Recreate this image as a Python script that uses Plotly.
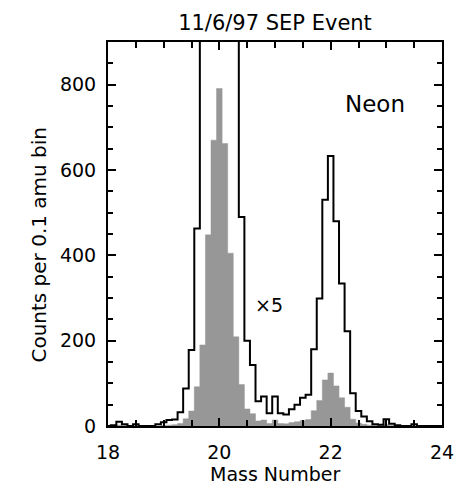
import plotly.graph_objects as go

# Bin centres (amu), 0.1 amu bins
mass = [18.0, 18.1, 18.2, 18.3, 18.4, 18.5, 18.6, 18.7, 18.8, 18.9,
        19.0, 19.1, 19.2, 19.3, 19.4, 19.5, 19.6, 19.7, 19.8, 19.9,
        20.0, 20.1, 20.2, 20.3, 20.4, 20.5, 20.6, 20.7, 20.8, 20.9,
        21.0, 21.1, 21.2, 21.3, 21.4, 21.5, 21.6, 21.7, 21.8, 21.9,
        22.0, 22.1, 22.2, 22.3, 22.4, 22.5, 22.6, 22.7, 22.8, 22.9,
        23.0, 23.1, 23.2, 23.3, 23.4, 23.5, 23.6, 23.7, 23.8, 23.9, 24.0]

# Counts per 0.1 amu bin (grey filled histogram)
counts = [0, 0, 2, 1, 0, 0, 0, 0, 0, 0,
          1, 2, 3, 6, 17, 35, 92, 190, 448, 670,
          791, 662, 405, 209, 97, 40, 29, 12, 14, 6,
          14, 6, 5, 8, 10, 13, 15, 36, 60, 108,
          124, 94, 66, 44, 16, 7, 4, 2, 1, 1,
          3, 1, 0, 0, 0, 0, 0, 0, 0, 0, 0]

# Counts x5 (black outline histogram)
counts_x5 = [0, 2, 10, 4, 0, 4, 0, 0, 0, 4,
             9, 14, 15, 32, 88, 178, 463, 950, 2240, 3350,
             3955, 3310, 2025, 1045, 490, 200, 143, 58, 69, 30,
             69, 30, 27, 39, 50, 66, 73, 180, 299, 530,
             633, 480, 334, 222, 77, 35, 22, 11, 4, 3,
             16, 5, 2, 0, 0, 4, 0, 0, 0, 0, 0]

x_ticks = [18, 20, 22, 24]
y_ticks = [0, 200, 400, 600, 800]

FONT = "DejaVu Sans"

fig = go.Figure()
fig.add_trace(go.Scatter(x=mass, y=counts, mode="lines",
                         line=dict(color="#979797", width=0.5, shape="hvh"),
                         fill="tozeroy", fillcolor="#979797",
                         showlegend=False))
fig.add_trace(go.Scatter(x=mass, y=counts_x5, mode="lines",
                         line=dict(color="black", width=2, shape="hvh"),
                         showlegend=False))

axis_common = dict(showline=True, linecolor="black", linewidth=2, mirror="ticks",
                   ticks="inside", tickcolor="black", tickwidth=1.5,
                   showgrid=False, zeroline=False,
                   tickfont=dict(family=FONT, size=19, color="black"))

fig.update_xaxes(range=[18, 24], tickvals=x_ticks, ticktext=[str(v) for v in x_ticks],
                 ticklen=8, ticklabelstandoff=8,
                 minor=dict(dtick=0.5, tick0=18, ticklen=6, ticks="inside",
                            tickcolor="black", tickwidth=1.5, showgrid=False),
                 **axis_common)
fig.update_yaxes(range=[0, 900], tickvals=y_ticks, ticktext=[str(v) for v in y_ticks],
                 ticklen=8, ticklabelstandoff=6,
                 minor=dict(dtick=50, tick0=0, ticklen=5, ticks="inside",
                            tickcolor="black", tickwidth=1.5, showgrid=False),
                 **axis_common)

fig.update_layout(
    width=466, height=487,
    margin=dict(l=108, r=15, t=42, b=61),
    paper_bgcolor="white", plot_bgcolor="white",
    title=dict(text="11/6/97 SEP Event", x=0.5, xref="paper", xanchor="center",
               y=1 - 22.5 / 487, yref="container", yanchor="middle",
               font=dict(family=FONT, size=21, color="black")),
    annotations=[
        dict(text="Mass Number", xref="paper", yref="paper", x=0.5, y=-48 / 384,
             xanchor="center", yanchor="middle", showarrow=False,
             font=dict(family=FONT, size=19, color="black")),
        dict(text="Counts per 0.1 amu bin", xref="paper", yref="paper",
             x=(36.7 - 108) / 343, y=(426 - 245) / 384, textangle=-90,
             xanchor="center", yanchor="middle", showarrow=False,
             font=dict(family=FONT, size=20, color="black")),
        dict(text="Neon", xref="x", yref="y", x=22.8, y=755,
             xanchor="center", yanchor="middle", showarrow=False,
             font=dict(family=FONT, size=23, color="black")),
        dict(text="×5", xref="x", yref="y", x=20.9, y=284,
             xanchor="center", yanchor="middle", showarrow=False,
             font=dict(family=FONT, size=19, color="black")),
    ],
)

fig.write_html("out.html")
